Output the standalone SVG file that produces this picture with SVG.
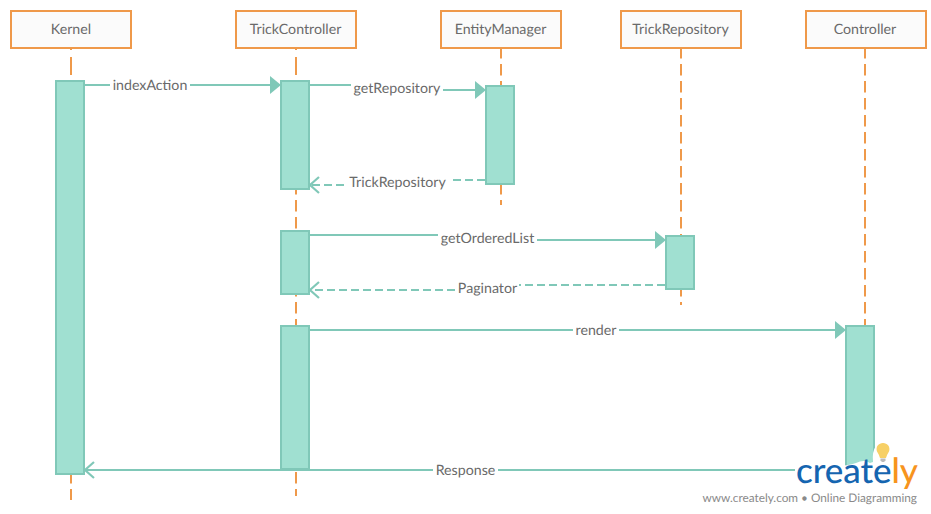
<svg xmlns="http://www.w3.org/2000/svg" width="931" height="514" viewBox="0 0 931 514">
<style>
text{font-family:Lato,"Liberation Sans",sans-serif;font-size:14.2px;fill:#6a6a6a;text-anchor:middle;text-rendering:geometricPrecision}
.head{fill:#fbfbfb;stroke:#ef994a;stroke-width:2}
.life{fill:none;stroke:#ef994a;stroke-width:2;stroke-dasharray:11.5 5.5}
.solid{fill:none;stroke:#ef994a;stroke-width:2}
.act{fill:#a0e0d1;stroke:#80c8b8;stroke-width:2}
.msg{fill:none;stroke:#80c8b8;stroke-width:2}
.ret{fill:none;stroke:#80c8b8;stroke-width:2;stroke-dasharray:8 4}
.open{fill:none;stroke:#80c8b8;stroke-width:2.2}
.tip{fill:#80c8b8}
</style>
<rect width="931" height="514" fill="#ffffff"/>
<g id="lifelines">
<path class="solid" d="M71 48V50M71 57V75M296 48V50M296 57V75"/>
<path class="life" d="M71 81V500"/>
<path class="life" d="M296 81V496"/>
<path class="life" d="M501 47V205"/>
<path class="life" d="M681 47V305"/>
<path class="life" d="M865 47V326"/>
</g>
<g id="kernel"><rect class="head" x="11" y="11" width="120" height="37"/><text x="71" y="34">Kernel</text></g>
<g id="trickcontroller"><rect class="head" x="236" y="11" width="120" height="37"/><text x="295.500" y="34">TrickController</text></g>
<g id="entitymanager"><rect class="head" x="441" y="11" width="120" height="37"/><text x="500.500" y="34">EntityManager</text></g>
<g id="trickrepository"><rect class="head" x="621" y="11" width="120" height="37"/><text x="680.500" y="34">TrickRepository</text></g>
<g id="controller"><rect class="head" x="806" y="11" width="120" height="37"/><text x="865" y="34">Controller</text></g>
<g id="activations">
<rect class="act" x="56" y="81" width="28" height="393"/>
<rect class="act" x="281" y="81" width="28" height="108"/>
<rect class="act" x="281" y="231" width="28" height="63"/>
<rect class="act" x="281" y="326" width="28" height="143"/>
<rect class="act" x="486" y="86" width="28" height="98"/>
<rect class="act" x="666" y="236" width="28" height="53"/>
<rect class="act" x="846" y="326" width="28" height="143"/>
</g>
<g id="connectors">
<path class="msg" d="M85 85H110M190 85H271"/><path class="tip" d="M270 76L281 85L270 94Z"/>
<path class="msg" d="M310 85H351M443 90H476"/><path class="tip" d="M475 81L486 90L475 99Z"/>
<path class="ret" d="M485 180H451M344 185H311"/><path class="open" d="M319 177L310 185L319 193"/>
<path class="msg" d="M310 235H438M537 240H656"/><path class="tip" d="M655 231L666 240L655 249Z"/>
<path class="ret" d="M665 285H519M455 290H311"/><path class="open" d="M319 282L310 290L319 298"/>
<path class="msg" d="M310 330H573M619 330H836"/><path class="tip" d="M835 321L846 330L835 339Z"/>
<path class="msg" d="M795 470H498M433 470H86"/><path class="open" d="M94 462L85 470L94 478"/>
</g>
<g id="labels">
<text x="150" y="90">indexAction</text>
<text x="397" y="93">getRepository</text>
<text x="397.500" y="187">TrickRepository</text>
<text x="487.500" y="243">getOrderedList</text>
<text x="487.500" y="293">Paginator</text>
<text x="596" y="335">render</text>
<text x="465.500" y="475">Response</text>
</g>
<g id="logo">
<path d="M795 472Q812 464 835 466Q848 466 856 463Q864 459 870 463L873 462Q872 451 876 446Q882 440 890 443L896 460L893 466L920 466V494H795Z" fill="#fff"/>
<path d="M883 443a6.200 6.200 0 0 1 6 8.500q-2 3-3 6.500h-6q-1-3.500-3-6.500a6.200 6.200 0 0 1 6-8.500z" fill="#f7d066"/>
<path d="M880.500 458.500h5v2l-1.500 1.500h-2l-1.500-1.500z" fill="#bbb"/>
<text x="796" y="483" textLength="122" lengthAdjust="spacing" style="font-size:35px;text-anchor:start;fill:#1565b0;font-weight:500">create<tspan fill="#f7941d">ly</tspan></text>
<text x="917" y="502" style="font-size:11.8px;text-anchor:end;fill:#8a8a8a">www.creately.com • Online Diagramming</text>
</g>
</svg>
